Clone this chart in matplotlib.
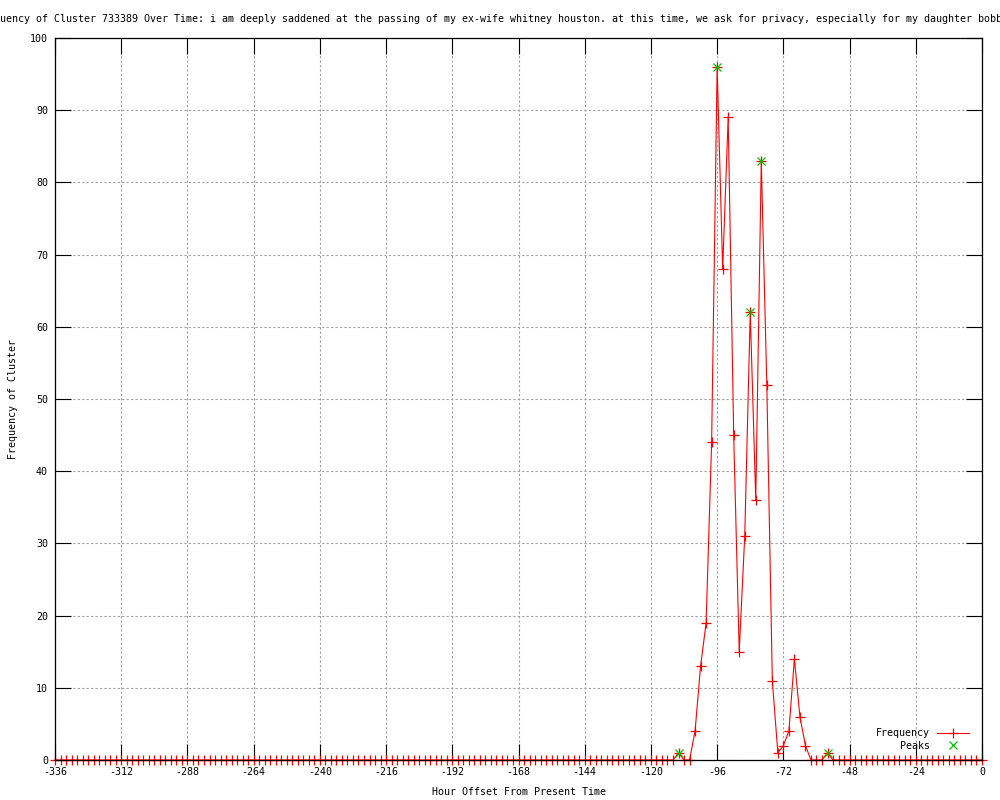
import numpy as np
import matplotlib
matplotlib.use("Agg")
import matplotlib.pyplot as plt

# hours are every 2h from -336 to 0; only the burst window is non-zero
hours = np.arange(-336, 1, 2)
burst_start = -110
burst_freq = [1, 0, 0, 4, 13, 19, 44, 96, 68, 89, 45, 15, 31, 62,
              36, 83, 52, 11, 1, 2, 4, 14, 6, 2, 0, 0, 0, 1]

peak_hours = [-110, -96, -84, -80, -56]
peak_freq = [1, 96, 62, 83, 1]

xticks = list(range(-336, 1, 24))
yticks = list(range(0, 101, 10))

title = ("Frequency of Cluster 733389 Over Time: i am deeply saddened at the passing "
         "of my ex-wife whitney houston. at this time, we ask for privacy, "
         "especially for my daughter bobbi kristina.")

# full series: zeros outside the burst
freq = np.zeros(len(hours))
i0 = list(hours).index(burst_start)
freq[i0:i0 + len(burst_freq)] = burst_freq

plt.rcParams['font.family'] = ['DejaVu Sans Mono']
plt.rcParams['font.size'] = 7.2
plt.rcParams['axes.unicode_minus'] = False

fig = plt.figure(figsize=(10, 8), dpi=100)
ax = fig.add_axes([0.055, 0.05, 0.927, 0.9025])

ax.plot(hours, freq, color='#ff0000', lw=0.8, marker='+', ms=7, mew=0.9,
        label='Frequency', clip_on=False, zorder=2)
ax.plot(peak_hours, peak_freq, ls='none', color='#00c000', marker='x', ms=6,
        mew=0.9, label='Peaks', zorder=3)

ax.set_xlim(-336, 0)
ax.set_ylim(0, 100)
ax.set_xticks(xticks)
ax.set_yticks(yticks)
ax.grid(True, color='#a0a0a0', ls=(0, (2, 2)), lw=0.8)
ax.set_axisbelow(True)
ax.tick_params(direction='in', length=11.5, width=0.8, top=True, right=True,
               pad=5, labelsize=7.2)
for s in ax.spines.values():
    s.set_linewidth(0.9)
    s.set_zorder(4)

# long title is centred on the plot and runs off both edges, as in the original
ax.annotate(title, xy=(0.5, 1.0), xycoords='axes fraction', xytext=(2.2, 14),
            textcoords='offset points', ha='center', va='center', fontsize=7.2)
fig.text(0.013, 0.501, 'Frequency of Cluster', rotation=90, ha='center', va='center')
fig.text(0.5185, 0.01, 'Hour Offset From Present Time', ha='center', va='center')

ax.legend(loc='lower right', bbox_to_anchor=(0.986, 0.0125), frameon=False,
          markerfirst=False, numpoints=1, handlelength=3.2, handletextpad=0.7,
          labelspacing=0.25, borderaxespad=0, borderpad=0, fontsize=7.2)

fig.savefig('out.png', dpi=100)
